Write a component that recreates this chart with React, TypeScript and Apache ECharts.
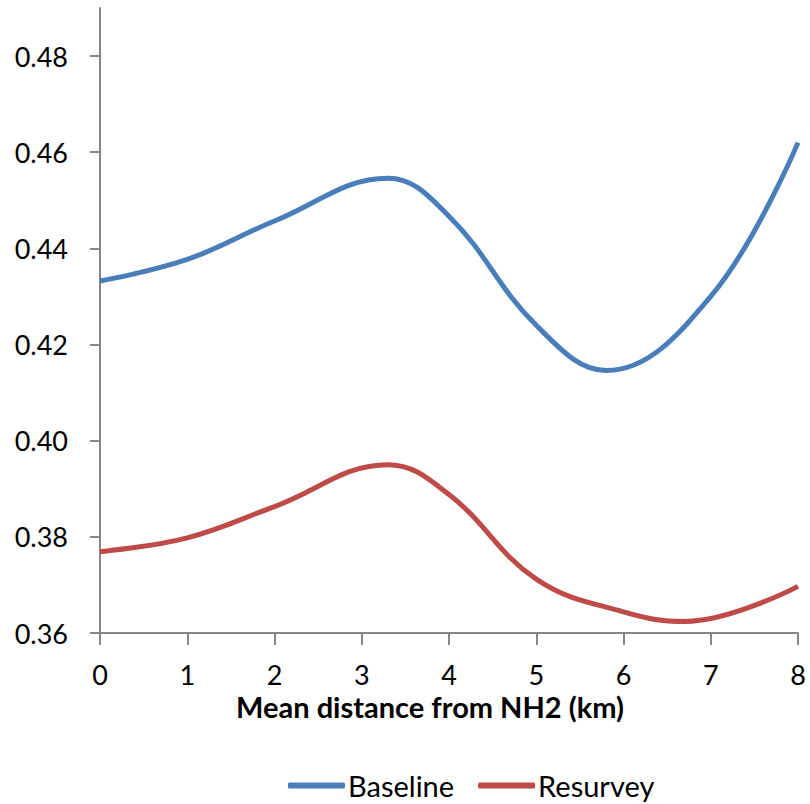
import React, { useEffect, useRef } from "react";
import * as echarts from "echarts";

const baselineX = [0, 1, 2, 3.3, 4, 5, 5.8, 7, 8];
const baselineY = [0.4332, 0.4377, 0.4457, 0.4546, 0.4467, 0.424, 0.4146, 0.43, 0.462];
const resurveyX = [0, 1, 2, 3.3, 4, 5, 6, 6.7, 8];
const resurveyY = [0.3769, 0.3798, 0.3863, 0.395, 0.3888, 0.3712, 0.3644, 0.3624, 0.3697];
const yTicks = [0.36, 0.38, 0.4, 0.42, 0.44, 0.46, 0.48];
const seriesNames = ["Baseline", "Resurvey"];
const xTitle = "Mean distance from NH2 (km)";

const FONT = "Lato, 'Liberation Sans', sans-serif";

export default function App() {
  const ref = useRef<HTMLDivElement>(null);
  useEffect(() => {
    if (!ref.current) return;
    const chart = echarts.init(ref.current, undefined, { renderer: "svg" });
    const axisColor = "#868686";
    chart.setOption({
      animation: false,
      backgroundColor: "#fff",
      grid: { left: 100, right: 12, top: 8, bottom: 171 },
      xAxis: {
        type: "value",
        min: 0,
        max: 8,
        interval: 1,
        splitLine: { show: false },
        axisLine: { lineStyle: { color: axisColor, width: 2 } },
        axisTick: { length: 12, lineStyle: { color: axisColor, width: 2 } },
        axisLabel: { margin: 31, fontSize: 27, lineHeight: 20, color: "#000", fontFamily: FONT },
      },
      yAxis: {
        type: "value",
        min: 0.36,
        max: 0.49,
        interval: 0.02,
        splitLine: { show: false },
        axisLine: { show: true, lineStyle: { color: axisColor, width: 2 } },
        axisTick: { show: true, length: 10, customValues: yTicks, lineStyle: { color: axisColor, width: 2 } },
        axisLabel: {
          margin: 32,
          fontSize: 27,
          color: "#000",
          fontFamily: FONT,
          customValues: yTicks,
          formatter: (v: number) => v.toFixed(2),
        },
      },
      legend: {
        left: 283,
        top: 766,
        itemWidth: 57,
        itemHeight: 6,
        itemGap: 24,
        icon: "roundRect",
        textStyle: { fontSize: 29, lineHeight: 28, color: "#000", fontFamily: FONT, padding: [0, 0, 0, -2] },
        data: seriesNames,
      },
      graphic: [
        {
          type: "text",
          x: 430,
          y: 694,
          style: {
            text: xTitle,
            fontSize: 29,
            lineHeight: 24,
            fontWeight: "bold",
            fontFamily: FONT,
            fill: "#000",
            textAlign: "center",
            textVerticalAlign: "top",
          },
        },
      ],
      series: [
        {
          name: seriesNames[0],
          type: "line",
          smooth: 0.4,
          showSymbol: false,
          symbol: "none",
          lineStyle: { color: "#4A7EBB", width: 5 },
          itemStyle: { color: "#4A7EBB" },
          data: baselineX.map((x, i) => [x, baselineY[i]]),
        },
        {
          name: seriesNames[1],
          type: "line",
          smooth: 0.4,
          showSymbol: false,
          symbol: "none",
          lineStyle: { color: "#BE4B48", width: 5 },
          itemStyle: { color: "#BE4B48" },
          data: resurveyX.map((x, i) => [x, resurveyY[i]]),
        },
      ],
    });
    return () => chart.dispose();
  }, []);
  return <div ref={ref} style={{ width: 810, height: 804, position: "absolute", left: 0, top: 0 }} />;
}
